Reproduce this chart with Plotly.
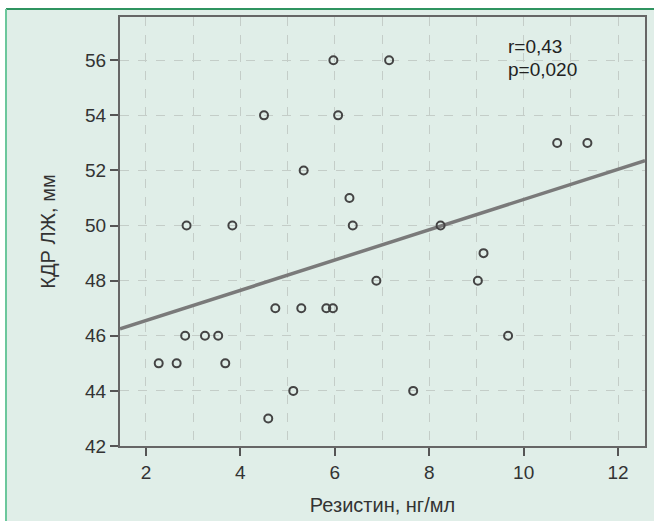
import plotly.graph_objects as go

# Data
resistin = [2.27, 2.65, 3.68, 2.83, 3.25, 3.53, 9.67, 4.74, 5.29, 5.82, 5.96,
            5.12, 7.66, 4.59, 2.86, 3.83, 6.38, 8.24, 4.50, 6.07, 5.34, 5.97,
            7.15, 10.71, 11.35, 6.31, 9.15, 6.88, 9.03]
kdr = [45, 45, 45, 46, 46, 46, 46, 47, 47, 47, 47,
       44, 44, 43, 50, 50, 50, 50, 54, 54, 52, 56,
       56, 53, 53, 51, 49, 48, 48]
fit_x = [1.45, 12.57]
fit_y = [46.25, 52.36]
stat_lines = ["r=0,43", "p=0,020"]
x_title = "Резистин, нг/мл"
y_title = "КДР ЛЖ, мм"

BG = "#e0eee8"
FONT = "Liberation Sans, Arial, sans-serif"

fig = go.Figure()
fig.add_trace(go.Scatter(
    x=fit_x, y=fit_y, mode="lines",
    line=dict(color="#7a7a7a", width=3.5), showlegend=False, hoverinfo="skip"))
fig.add_trace(go.Scatter(
    x=resistin, y=kdr, mode="markers",
    marker=dict(symbol="circle-open", size=8, color="#444444",
                line=dict(width=2, color="#444444")),
    showlegend=False))

axis_common = dict(
    showline=True, linecolor="#666666", linewidth=2, mirror=True,
    ticks="outside", ticklen=8, tickwidth=1.5, tickcolor="#555555",
    tickfont=dict(family=FONT, size=19, color="#333333"),
    showgrid=True, gridcolor="#c4cdc8", griddash="dash", gridwidth=1,
    zeroline=False, automargin=False,
)

fig.update_xaxes(
    range=[1.45, 12.57], tick0=2, dtick=2,
    minor=dict(dtick=1, showgrid=True, gridcolor="#c4cdc8", griddash="dash", ticks=""),
    title=dict(text=x_title, font=dict(family=FONT, size=20, color="#333333"), standoff=16),
    **axis_common)
fig.update_yaxes(
    range=[42, 57.57], tick0=42, dtick=2,
    title=dict(text=y_title, font=dict(family=FONT, size=20, color="#333333"), standoff=24),
    **axis_common)

fig.add_annotation(xref="paper", yref="paper", x=(506 - 120) / 525, y=(446 - 46.5) / 429,
                   text=stat_lines[0], showarrow=False, xanchor="left", yanchor="middle",
                   font=dict(family=FONT, size=19, color="#222222"))
fig.add_annotation(xref="paper", yref="paper", x=(506 - 120) / 525, y=(446 - 69) / 429,
                   text=stat_lines[1], showarrow=False, xanchor="left", yanchor="middle",
                   font=dict(family=FONT, size=19, color="#222222"))

# Outer panel background and border
fig.add_shape(type="rect", xref="paper", yref="paper",
              x0=(6 - 120) / 525, x1=(670 - 120) / 525,
              y0=(446 - 540) / 429, y1=(446 - 9) / 429,
              fillcolor=BG, line=dict(width=0), layer="below")
fig.add_shape(type="line", xref="paper", yref="paper",
              x0=(6 - 120) / 525, x1=(670 - 120) / 525,
              y0=(446 - 9) / 429, y1=(446 - 9) / 429,
              line=dict(color="#2f9460", width=2), layer="below")
fig.add_shape(type="line", xref="paper", yref="paper",
              x0=(6 - 120) / 525, x1=(6 - 120) / 525,
              y0=(446 - 540) / 429, y1=(446 - 9) / 429,
              line=dict(color="#6cc79c", width=2), layer="below")

fig.update_layout(
    width=654, height=521,
    margin=dict(l=120, r=9, t=17, b=75, autoexpand=False),
    paper_bgcolor="white", plot_bgcolor=BG,
    font=dict(family=FONT),
)

fig.write_html("out.html", config={"displayModeBar": False},
               post_script="document.body.style.margin='0';")
